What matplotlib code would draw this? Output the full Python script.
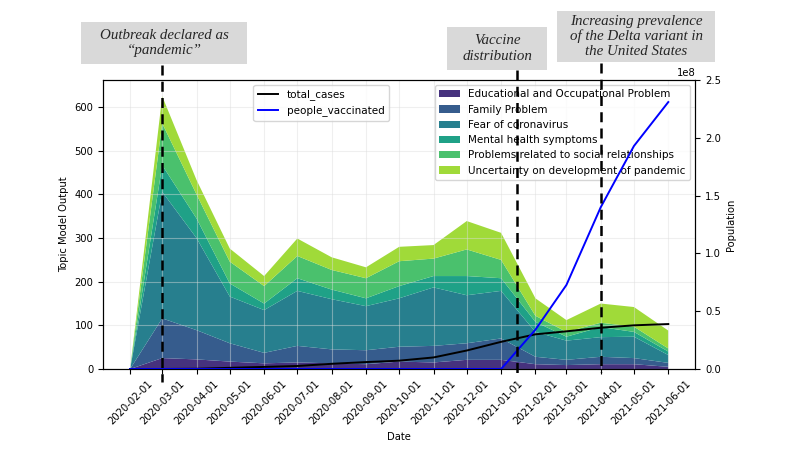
import matplotlib
matplotlib.use('Agg')
import matplotlib.pyplot as plt
import matplotlib.dates as mdates
import matplotlib.transforms as mtransforms
from matplotlib.lines import Line2D
from matplotlib.patches import Rectangle
import numpy as np
import pandas as pd

plt.rcParams['font.size'] = 7.2

# Monthly topic model output (stacked)
months = pd.date_range('2020-02-01', '2021-06-01', freq='MS')
topics = ['Educational and Occupational Problem', 'Family Problem', 'Fear of coronavirus',
          'Mental health symptoms', 'Problems related to social relationships',
          'Uncertainty on development of pandemic']
edu = [0, 25, 22, 17, 13, 15, 13, 11, 17, 15, 21, 21, 11, 9, 11, 11, 5]
family = [0, 91, 67, 42, 24, 38, 32, 32, 34, 38, 38, 49, 17, 12, 17, 14, 9]
fear = [0, 290, 211, 107, 98, 126, 115, 101, 111, 134, 110, 109, 57, 44, 45, 49, 18]
mental = [0, 61, 45, 30, 15, 29, 22, 18, 28, 26, 44, 29, 23, 9, 23, 11, 8]
social = [0, 96, 55, 50, 40, 51, 45, 46, 57, 40, 61, 42, 14, 11, 10, 12, 7]
uncert = [0, 62, 33, 30, 23, 40, 29, 25, 33, 31, 65, 62, 40, 27, 44, 45, 41]

# Population (right axis)
total_cases = [0, 0.01e6, 0.2e6, 1.0e6, 1.8e6, 2.6e6, 4.5e6, 6.0e6, 7.2e6, 10.0e6,
               16.0e6, 23.5e6, 30.0e6, 32.6e6, 35.7e6, 37.8e6, 38.9e6]
people_vaccinated = [0, 0, 0, 0, 0, 0, 0, 0, 0, 0, 0, 0, 34e6, 72.7e6, 140e6, 193e6, 231e6]

# Events marked on the chart
events = ['2020-03-01', '2021-01-15', '2021-04-01']
event_texts = ['Outbreak declared as\n\u201cpandemic\u201d',
               'Vaccine\ndistribution',
               'Increasing prevalence\nof the Delta variant in\nthe United States']

colors = plt.cm.viridis(np.linspace(0, 1, 8)[1:-1])

fig = plt.figure(figsize=(8, 4.5), dpi=100)
ax = fig.add_axes([0.129, 0.18, 0.74, 0.642])
ax.stackplot(months, edu, family, fear, mental, social, uncert, labels=topics, colors=colors)
ax.set_ylim(0, 662)
ax.grid(color='#dddddd', alpha=0.45, linewidth=0.8)
ax.set_xticks(months)
ax.set_xticklabels([d.strftime('%Y-%m-%d') for d in months], rotation=45)
ax.set_xlabel('Date')
ax.set_ylabel('Topic Model Output')
ax.legend(loc='upper right', fontsize=7.5)

ax2 = ax.twinx()
ax2.plot(months, total_cases, color='black', linewidth=1.4, label='total_cases')
ax2.plot(months, people_vaccinated, color='blue', linewidth=1.4, label='people_vaccinated')
ax2.set_ylim(0, 2.5e8)
ax2.set_ylabel('Population')
ax2.legend(loc='upper left', bbox_to_anchor=(0.245, 1.0), fontsize=7.5)

# dashed event lines, running from the boxes down past the axis
trans = mtransforms.blended_transform_factory(ax.transData, fig.transFigure)
line_ends = [(0.856, 0.151), (0.844, 0.169), (0.86, 0.173)]
for ev, (y0, y1) in zip(events, line_ends):
    xv = mdates.date2num(pd.Timestamp(ev))
    fig.add_artist(Line2D([xv, xv], [y0, y1], transform=trans, color='black',
                          linestyle=(0, (4, 2.5)), linewidth=1.8, zorder=10))

# grey annotation boxes
boxes = [(81, 22, 166, 42), (447, 27, 100, 43), (557, 11, 158, 51)]
for (bx, by, bw, bh), txt in zip(boxes, event_texts):
    fig.add_artist(Rectangle((bx / 800, 1 - (by + bh) / 450), bw / 800, bh / 450,
                             transform=fig.transFigure, facecolor='#d9d9d9',
                             edgecolor='none', zorder=5))
    fig.text((bx + bw / 2) / 800, 1 - (by + bh / 2) / 450, txt, ha='center', va='center',
             family='Liberation Serif', style='italic', fontsize=10.8, color='#262626',
             linespacing=1.2, zorder=6)

fig.savefig('out.png', dpi=100)
